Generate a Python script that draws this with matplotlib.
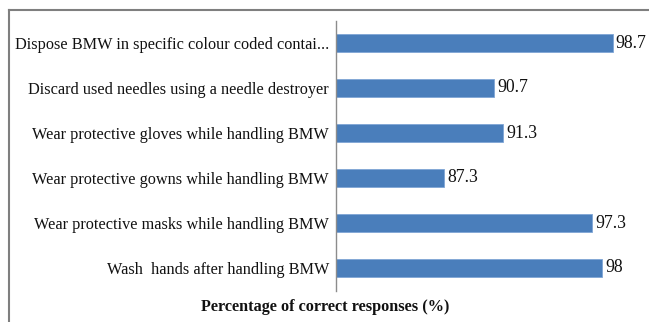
import matplotlib
matplotlib.use("Agg")
import matplotlib.pyplot as plt
from matplotlib.lines import Line2D

categories = [
    "Dispose BMW in specific colour coded contai...",
    "Discard used needles using a needle destroyer",
    "Wear protective gloves while handling BMW",
    "Wear protective gowns while handling BMW",
    "Wear protective masks while handling BMW",
    "Wash  hands after handling BMW",
]
values = [98.7, 90.7, 91.3, 87.3, 97.3, 98]
value_labels = ["98.7", "90.7", "91.3", "87.3", "97.3", "98"]

plt.rcParams["font.family"] = ["Liberation Serif", "DejaVu Serif"]

W, H = 649, 322
fig = plt.figure(figsize=(W / 100, H / 100), dpi=100)

# axes placement in pixel coordinates
x0, x1 = 336, 632
y0, y1 = 20.5, 290.5
ax = fig.add_axes([x0 / W, 1 - y1 / H, (x1 - x0) / W, (y1 - y0) / H])

pos = list(range(len(categories)))
ax.barh(pos, [v - 80 for v in values], left=80, height=0.4,
        color="#4A7EBB", edgecolor="#7FA6D6", linewidth=0.6)
ax.set_xlim(80, 100)
ax.set_ylim(len(categories) - 0.5, -0.5)

for p, v, lab in zip(pos, values, value_labels):
    ax.text(v + 0.2, p, lab, va="center", ha="left", fontsize=12.8, color="#111111")

ax.set_yticks(pos)
ax.set_yticklabels(categories, fontsize=11.7, color="#111111")
ax.tick_params(axis="y", length=0, pad=5)
ax.set_xticks([])
for s in ["top", "right", "bottom"]:
    ax.spines[s].set_visible(False)
ax.spines["left"].set_color("#8C8C8C")
ax.spines["left"].set_linewidth(1.0)

fig.text(325 / W, 1 - 307 / H, "Percentage of correct responses (%)",
         ha="center", va="center", fontsize=11.7, fontweight="bold", color="#111111")

# outer frame (left and top edges)
fig.add_artist(Line2D([9 / W, 9 / W], [0, 1 - 10 / H], transform=fig.transFigure,
                      color="#7F7F7F", linewidth=1.5))
fig.add_artist(Line2D([9 / W, 1], [1 - 10 / H, 1 - 10 / H], transform=fig.transFigure,
                      color="#7F7F7F", linewidth=1.5))

fig.savefig("out.png", dpi=100, facecolor="white")
